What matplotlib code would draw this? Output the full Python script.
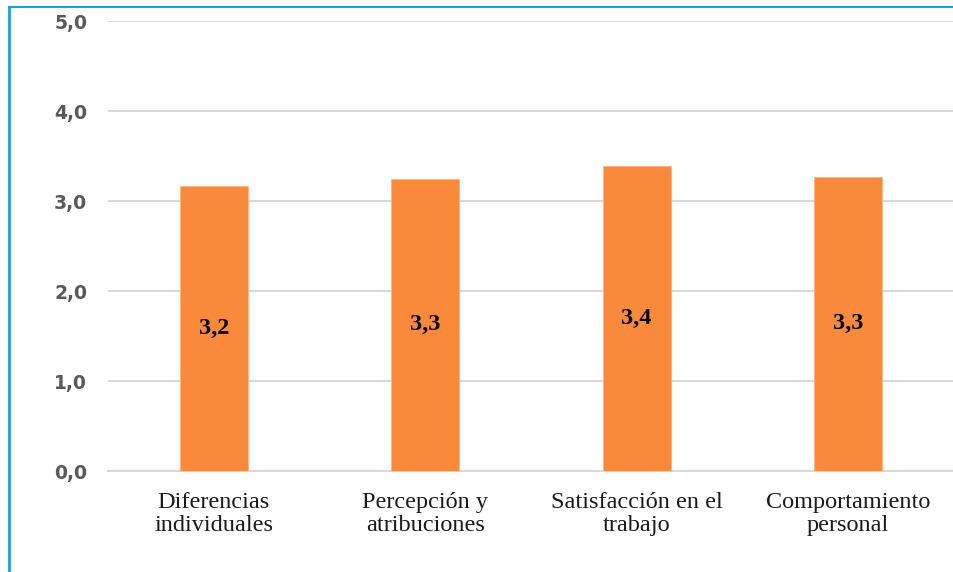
import matplotlib
matplotlib.use("Agg")
import matplotlib.pyplot as plt
from matplotlib.lines import Line2D

categorias = ["Diferencias\nindividuales", "Percepción y\natribuciones",
              "Satisfacción en el\ntrabajo", "Comportamiento\npersonal"]
valores = [3.17, 3.25, 3.39, 3.27]
etiquetas = ["3,2", "3,3", "3,4", "3,3"]
yticks = [0, 1, 2, 3, 4, 5]
ytick_labels = ["0,0", "1,0", "2,0", "3,0", "4,0", "5,0"]

W, H = 954, 572
fig = plt.figure(figsize=(W / 100, H / 100), dpi=100)
ax = fig.add_axes([108 / W, 1 - 471 / H, 1 - 108 / W, (471 - 21) / H])

x = range(len(categorias))
ax.bar(x, valores, width=0.32, color="#F98A3B", edgecolor="#FBB585",
       linewidth=0.6, zorder=3)

for i, (v, t) in enumerate(zip(valores, etiquetas)):
    ax.text(i, v / 2, t, ha="center", va="center", fontsize=17.5,
            fontweight="bold", family="Liberation Serif", color="black", zorder=4)

ax.set_xlim(-0.5, 3.5)
ax.set_ylim(0, 5)
ax.set_yticks(yticks)
ax.set_yticklabels(ytick_labels, fontsize=13.5, fontweight="bold", color="#595959")
ax.set_xticks(list(x))
ax.set_xticklabels(categorias, fontsize=17.5, family="Liberation Serif",
                   color="#1a1a1a", linespacing=1.12)
ax.tick_params(axis="y", length=0, pad=15)
ax.tick_params(axis="x", length=0, pad=15)
ax.grid(axis="y", color="#D9D9D9", linewidth=1.5, zorder=0)
for s in ["top", "right", "left"]:
    ax.spines[s].set_visible(False)
ax.spines["bottom"].set_color("#D9D9D9")
ax.spines["bottom"].set_linewidth(1.5)

# marco azul arriba e izquierda
yb = 1 - 7 / H
xb = 9 / W
fig.add_artist(Line2D([xb, xb], [0, yb], transform=fig.transFigure,
                      color="#1BA1DB", linewidth=2))
fig.add_artist(Line2D([xb, 1], [yb, yb], transform=fig.transFigure,
                      color="#1BA1DB", linewidth=1.5))

fig.savefig("out.png", dpi=100)
